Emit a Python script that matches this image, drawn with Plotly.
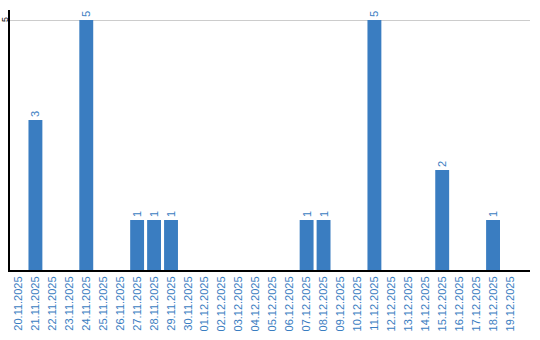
import plotly.graph_objects as go

dates = ["20.11.2025","21.11.2025","22.11.2025","23.11.2025","24.11.2025","25.11.2025",
         "26.11.2025","27.11.2025","28.11.2025","29.11.2025","30.11.2025","01.12.2025",
         "02.12.2025","03.12.2025","04.12.2025","05.12.2025","06.12.2025","07.12.2025",
         "08.12.2025","09.12.2025","10.12.2025","11.12.2025","12.12.2025","13.12.2025",
         "14.12.2025","15.12.2025","16.12.2025","17.12.2025","18.12.2025","19.12.2025"]
values = [0,3,0,0,5,0,0,1,1,1,0,0,0,0,0,0,0,1,1,0,0,5,0,0,0,2,0,0,1,0]
labels = [str(v) if v else "" for v in values]
y_ticks = [5]

bar_color = "#3a7dc1"

fig = go.Figure(go.Bar(
    x=dates, y=values, marker_color=bar_color, marker_line_width=0,
    text=labels, textposition="outside", textangle=-90, cliponaxis=False,
    textfont=dict(family="Arial", size=11, color=bar_color),
))
for t in y_ticks:
    fig.add_annotation(xref="paper", yref="y", x=0, y=t, text=str(t), showarrow=False,
                       xanchor="center", yanchor="middle", xshift=-5, textangle=-90,
                       borderpad=0,
                       font=dict(family="Arial", size=9, color="black"))
fig.update_layout(
    width=540, height=340, margin=dict(l=10, r=10, t=10, b=70),
    plot_bgcolor="white", paper_bgcolor="white", showlegend=False,
    bargap=0.18,
    xaxis=dict(type="category", range=[-0.5, 30.18], showline=True, linecolor="black",
               linewidth=2, ticks="", tickangle=-90, showgrid=False, automargin=False,
               tickfont=dict(family="Arial", size=11, color=bar_color)),
    yaxis=dict(range=[0, 5.2], tickvals=y_ticks, showticklabels=False, showline=True,
               linecolor="black", linewidth=2, showgrid=True, gridcolor="#cccccc",
               zeroline=False, ticks="", automargin=False),
)
fig.write_html("out.html")
